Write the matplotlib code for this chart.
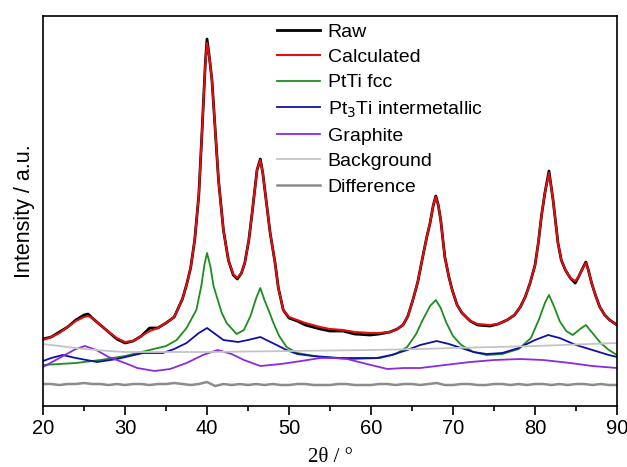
import numpy as np
import matplotlib
matplotlib.use('Agg')
import matplotlib.pyplot as plt
from matplotlib.ticker import MultipleLocator

plt.rcParams['font.family'] = ['Liberation Sans', 'DejaVu Sans']

# -------------------------------- data (a.u.)
two_theta = [20, 21, 22, 23, 24, 25, 25.5, 26, 27, 28, 29, 30, 31, 32, 33, 34, 35, 36, 37, 37.5,
             38, 38.5, 39, 39.4, 39.8, 40, 40.3, 40.6, 41, 41.4, 42, 42.6, 43.2, 43.7, 44.2, 44.6,
             45.1, 45.5, 46.1, 46.5, 46.8, 47.4, 47.7, 48.3, 48.7, 49.3, 50, 51, 52, 53.8, 55,
             56.6, 58, 59.9, 61, 62.3, 63.2, 63.9, 64.5, 65.1, 65.7, 66.3, 66.8, 67.2, 67.6, 67.9,
             68.2, 68.5, 69.0, 69.5, 69.9, 70.5, 71.1, 72.1, 73, 74.5, 75.5, 76.6, 77.5, 78.2,
             78.8, 79.4, 80, 80.4, 80.8, 81.2, 81.7, 82.2, 82.8, 83.2, 83.7, 84.3, 84.9, 85.3,
             85.7, 86.2, 86.5, 86.9, 87.4, 87.9, 88.5, 89.1, 90]
calculated = [66, 69, 73, 79, 85, 89, 90, 88, 81, 74, 68, 64, 65, 70, 75, 78, 83, 89, 107, 121,
              138, 166, 211, 276, 343, 363, 348, 326, 276, 226, 176, 146, 132, 128, 133, 143,
              166, 193, 236, 246, 233, 193, 173, 143, 118, 96, 89, 86, 83, 79, 77,
              76, 74, 73, 73, 74, 77, 81, 90, 106, 124, 149, 169, 183, 201, 209,
              201, 186, 149, 129, 116, 101, 93, 85, 82, 81, 82, 86, 91, 99,
              109, 123, 141, 163, 191, 213, 233, 206, 163, 146, 136, 128, 125, 129,
              136, 143, 136, 123, 110, 99, 91, 86, 81]
raw = [67, 69, 74, 79, 86, 91, 92, 88, 81, 74, 67, 63, 65, 70, 78, 78, 83, 89, 107, 121,
       138, 166, 211, 276, 344, 367, 348, 326, 276, 226, 176, 146, 131, 127, 133, 143,
       166, 193, 236, 247, 233, 193, 173, 143, 118, 96, 88, 85, 81, 77, 75,
       75, 72, 71, 72, 74, 77, 81, 90, 106, 124, 149, 169, 183, 201, 210,
       201, 186, 149, 129, 116, 101, 93, 85, 81, 80, 82, 86, 91, 99,
       109, 123, 141, 163, 191, 213, 235, 206, 163, 146, 136, 128, 123, 129,
       136, 144, 136, 123, 110, 99, 91, 86, 81]

fcc_x = [20, 24, 27, 30, 33, 35, 36.3, 37.5, 38.7, 39.3, 39.7, 40, 40.4, 40.8, 41.2, 41.8, 42.4,
         43.6, 44.5, 45.3, 46, 46.5, 47, 47.5, 48.1, 48.8, 49.7, 51, 53.8, 57.8, 61.1, 63, 64.4,
         65.5, 66.3, 67.2, 67.9, 68.5, 69.2, 70, 71, 72.5, 74.1, 76, 78, 79.5, 80.5, 81.2, 81.7,
         82.3, 83, 83.8, 84.6, 85.5, 86.2, 87, 88, 89, 90]
fcc_y = [41, 43, 46, 50, 56, 60, 66, 78, 96, 120, 142, 153, 140, 120, 109, 93, 83,
         72, 76, 90, 108, 118, 106, 96, 83, 70, 59, 53, 49, 47, 48, 52, 59,
         72, 86, 100, 106, 98, 83, 70, 61, 54, 51, 52, 57, 68, 87, 103, 111,
         100, 85, 75, 71, 77, 81, 73, 63, 56, 51]

pt3ti_x = [20, 21, 22.4, 24, 26.6, 29, 32.2, 34.6, 36, 37.5, 39, 40, 41, 42, 43.8, 45, 46.5, 48,
           49.7, 51, 52.9, 56.2, 60.7, 62.5, 64.4, 66, 68, 69.5, 71, 72.5, 74.1, 76, 78, 80,
           81.6, 83, 85, 87, 89, 90]
pt3ti_y = [45, 48, 51, 48, 44, 47, 53, 53, 57, 63, 73, 78, 72, 66, 64, 66, 69, 63,
           56, 52, 50, 48, 48, 51, 56, 61, 65, 62, 58, 54, 52, 53, 58, 66,
           71, 68, 61, 56, 51, 49]

graph_x = [20, 22, 24, 25.1, 26.5, 28, 30, 31.5, 33.6, 35.5, 37.5, 39.5, 41.3, 43, 44.5, 46.5,
           49, 51.5, 53.8, 55.5, 57.1, 59, 62, 64, 66, 69, 72.1, 75, 78.2, 81, 84.3, 87, 90]
graph_y = [39, 48, 57, 60, 56, 49, 43, 38, 35, 37, 43, 51, 56, 52, 46, 40,
           42, 45, 48, 48, 47, 43, 37, 38, 38, 41, 44, 46, 47, 46, 43, 40, 38]

bg_x = [20, 22, 25, 28, 30, 35, 40, 50, 60, 66, 70, 80, 90]
bg_y = [62, 60, 57, 55, 54, 54, 54, 55, 56, 57, 58, 60, 63]

diff_x = list(range(20, 91))
diff_y = [22, 22, 21, 22, 22, 23, 22, 22, 21, 22,
          21, 22, 22, 21, 22, 22, 23, 22, 21, 22,
          24, 20, 22, 21, 22, 21, 22, 21, 22, 21,
          21, 22, 22, 21, 21, 21, 22, 22, 21, 21,
          21, 22, 22, 21, 22, 22, 21, 22, 23, 21,
          21, 22, 22, 21, 21, 22, 22, 21, 22, 21,
          22, 22, 21, 22, 21, 22, 22, 21, 22, 21,
          21]

# -------------------------------- plot
fig = plt.figure(figsize=(6.27, 4.67), dpi=100)
ax = fig.add_axes([0.0686, 0.1306, 0.9155, 0.8351])

ax.plot(two_theta, raw, color='black', lw=2.0, label='Raw')
ax.plot(two_theta, calculated, color='#e01010', lw=1.5, label='Calculated')
ax.plot(fcc_x, fcc_y, color='#1e8c1e', lw=1.3, label='PtTi fcc')
ax.plot(pt3ti_x, pt3ti_y, color='#1010a8', lw=1.3, label='Pt$_3$Ti intermetallic')
ax.plot(graph_x, graph_y, color='#8a2be2', lw=1.3, label='Graphite')
ax.plot(bg_x, bg_y, color='#c4c4c4', lw=1.3, label='Background')
ax.plot(diff_x, diff_y, color='#8c8c8c', lw=1.8, label='Difference')

ax.set_xlim(20, 90)
ax.set_ylim(0, 390)
ax.xaxis.set_major_locator(MultipleLocator(10))
ax.xaxis.set_minor_locator(MultipleLocator(5))
ax.tick_params(axis='x', which='major', direction='out', length=6.5, width=1.2, labelsize=14.5, pad=3)
ax.tick_params(axis='x', which='minor', direction='out', length=3.5, width=1.2)
ax.set_yticks([])
for s in ax.spines.values():
    s.set_linewidth(1.2)

ax.set_ylabel('Intensity / a.u.', fontsize=15.5, labelpad=6)
ax.set_xlabel('2θ / °', fontsize=15, family=['Liberation Serif', 'DejaVu Serif'], labelpad=7)

ax.legend(loc='upper left', bbox_to_anchor=(0.408, 0.982), frameon=False, fontsize=14,
          handlelength=2.2, handletextpad=0.4, labelspacing=0.4, borderpad=0, borderaxespad=0)

plt.savefig('out.png', dpi=100)
